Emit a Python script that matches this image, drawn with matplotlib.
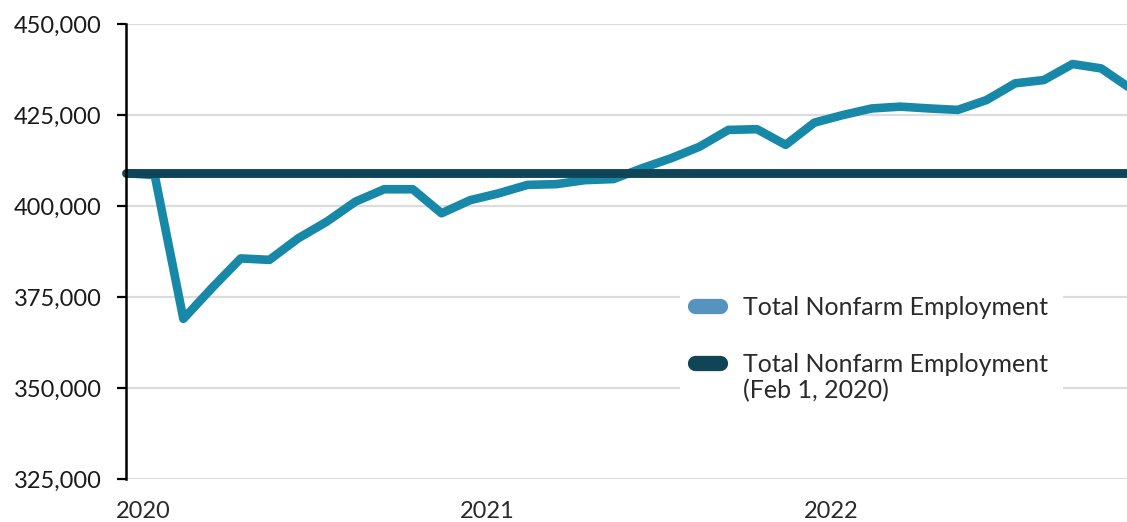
import matplotlib
matplotlib.use("Agg")
import matplotlib.pyplot as plt
from matplotlib.lines import Line2D
from matplotlib.patches import Rectangle
from matplotlib.ticker import FuncFormatter

plt.rcParams['font.family'] = ['Lato', 'DejaVu Sans']

# Monthly values (thousands), Feb 2020 onward
employment = [409.0, 408.5, 369.0, 377.5, 385.6, 385.2, 391.1, 395.7, 401.2, 404.6,
              404.6, 398.0, 401.6, 403.5, 405.8, 406.0, 407.1, 407.4, 410.4, 413.1,
              416.3, 420.9, 421.1, 416.8, 422.9, 425.0, 426.8, 427.3, 426.8, 426.4,
              429.1, 433.7, 434.6, 439.0, 437.8, 432.4]
baseline_value = 409.0
year_labels = ["2020", "2021", "2022"]
y_ticks = [325, 350, 375, 400, 425, 450]

series_label = "Total Nonfarm Employment"
baseline_label = "Total Nonfarm Employment\n(Feb 1, 2020)"

teal = "#1788a8"
dark = "#0f4556"
legend_light = "#5693be"

W, H = 1127, 522
fig = plt.figure(figsize=(W / 100, H / 100), dpi=100)
ax = fig.add_axes([126 / W, 1 - 479 / H, (1127 - 126) / W, (479 - 24) / H])

x = list(range(len(employment)))
ax.plot(x, [v * 1000 for v in employment], color=teal, lw=6.2,
        solid_capstyle='round', solid_joinstyle='round', zorder=3, clip_on=True)
ax.plot(x, [baseline_value * 1000] * len(x), color=dark, lw=6.4,
        solid_capstyle='round', zorder=4, clip_on=False)

ax.set_ylim(y_ticks[0] * 1000, y_ticks[-1] * 1000)
ax.set_xlim(0, 34.9)
ax.set_yticks([v * 1000 for v in y_ticks])
ax.yaxis.set_major_formatter(FuncFormatter(lambda v, p: f"{int(v):,}"))
ax.set_xticks([0.6, 12.6, 24.6])
ax.set_xticklabels(year_labels)

ax.grid(axis='y', color='#dcdcdc', lw=1.6, zorder=0)
ax.set_axisbelow(True)
for s in ['top', 'right', 'bottom']:
    ax.spines[s].set_visible(False)
ax.spines['left'].set_linewidth(1.8)
ax.spines['left'].set_color('black')
ax.spines['left'].set_zorder(5)

ax.tick_params(axis='y', length=6.5, width=1.6, pad=11, labelsize=17, labelcolor='#1a1a1a')
ax.tick_params(axis='x', length=0, pad=15.5, labelsize=17, labelcolor='#2a2a2a')

# Legend (drawn manually so the handle lines up with the first text line)
def fx(px):
    return px / W

def fy(py):
    return 1 - py / H

fig.add_artist(Rectangle((fx(680), fy(412)), fx(1063) - fx(680), fy(283) - fy(412),
                         transform=fig.transFigure, facecolor='white', edgecolor='none',
                         zorder=6))
entries = [(series_label, legend_light, 306), (baseline_label, dark, 363)]
for label, color, yc in entries:
    fig.add_artist(Line2D([fx(695), fx(720)], [fy(yc), fy(yc)], transform=fig.transFigure,
                          color=color, lw=11, solid_capstyle='round', zorder=7))
    for k, line in enumerate(label.split("\n")):
        fig.text(fx(743), fy(yc + 9 + 26.5 * k), line, fontsize=18, color='#2a2a2a',
                 ha='left', va='baseline', zorder=7)

fig.savefig("out.png", dpi=100)
